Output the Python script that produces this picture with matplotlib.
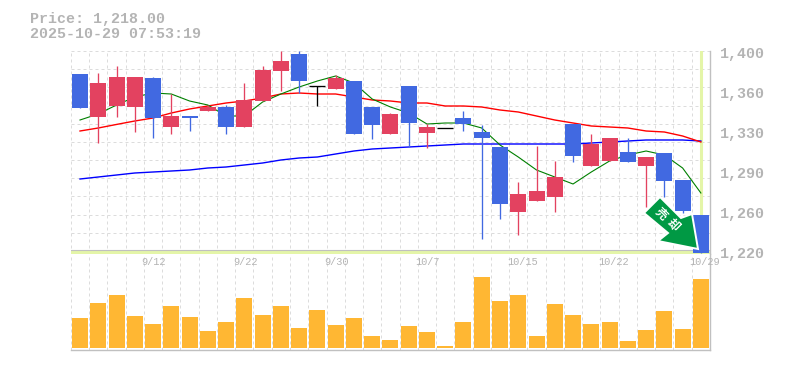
import numpy as np
import matplotlib
matplotlib.use("Agg")
import matplotlib.pyplot as plt
from matplotlib.patches import Polygon

# daily prices
opens = [1380.2, 1341.5, 1351.4, 1350.5, 1376.6, 1332.5, 1342.4, 1346.9, 1350.5, 1332.5,
         1355.9, 1382.9, 1398.2, 1369.7, 1366.7, 1373.9, 1350.5, 1326.2, 1369.4, 1327.1,
         1331.6, 1340.6, 1328.0, 1314.5, 1256.0, 1265.9, 1269.5, 1335.2, 1297.4, 1301.9,
         1310.0, 1297.4, 1309.1, 1284.8, 1253.3]
closes = [1349.6, 1372.1, 1377.5, 1377.5, 1340.6, 1342.4, 1340.6, 1350.5, 1332.5, 1356.8,
          1383.8, 1391.9, 1373.9, 1369.7, 1376.6, 1326.2, 1334.3, 1344.2, 1336.1, 1332.5,
          1331.6, 1335.2, 1322.6, 1263.2, 1272.2, 1274.9, 1287.5, 1306.4, 1317.2, 1322.6,
          1301.0, 1305.5, 1283.9, 1256.9, 1219.0]
highs = [1380.2, 1381.1, 1387.4, 1377.5, 1377.5, 1362.2, 1342.4, 1352.3, 1352.3, 1372.1,
         1387.4, 1400.9, 1400.9, 1369.7, 1379.3, 1373.9, 1350.5, 1345.1, 1369.4, 1335.2,
         1331.6, 1346.9, 1334.3, 1314.5, 1283.0, 1315.4, 1301.9, 1335.2, 1326.2, 1322.6,
         1322.6, 1305.5, 1309.1, 1284.8, 1253.3]
lows = [1349.6, 1318.1, 1341.5, 1328.0, 1322.6, 1326.2, 1328.9, 1346.9, 1326.2, 1332.5,
        1355.9, 1364.9, 1363.1, 1351.4, 1366.7, 1326.2, 1321.7, 1326.2, 1314.5, 1313.6,
        1331.6, 1328.9, 1231.7, 1249.7, 1235.3, 1265.9, 1256.0, 1301.0, 1297.4, 1301.9,
        1301.0, 1260.5, 1269.5, 1255.0, 1219.0]

ma_short = [1338.8, 1344.2, 1352.3, 1359.5, 1363.1, 1362.2, 1355.9, 1352.3, 1342.4, 1342.4,
            1355.0, 1362.2, 1368.5, 1373.9, 1378.4, 1372.1, 1357.7, 1350.5, 1345.1, 1335.2,
            1336.1, 1336.1, 1331.6, 1316.3, 1305.5, 1293.8, 1287.5, 1281.2, 1292.0, 1301.9,
            1307.3, 1310.9, 1307.3, 1295.6, 1273.1]
ma_mid = [1328.9, 1331.6, 1334.8, 1337.9, 1340.6, 1345.1, 1348.7, 1351.4, 1354.1, 1355.9,
          1358.6, 1362.2, 1363.1, 1362.2, 1362.2, 1359.5, 1356.8, 1355.9, 1354.1, 1354.1,
          1351.4, 1351.4, 1350.5, 1347.8, 1346.0, 1342.4, 1338.8, 1336.1, 1333.4, 1332.5,
          1331.6, 1328.9, 1328.0, 1324.4, 1319.0]
ma_long = [1285.7, 1287.5, 1289.3, 1291.1, 1292.0, 1292.9, 1293.8, 1295.6, 1296.5, 1298.3,
           1300.1, 1302.8, 1304.6, 1305.5, 1308.2, 1310.9, 1312.7, 1313.6, 1314.5, 1315.4,
           1316.3, 1317.2, 1317.2, 1317.2, 1317.2, 1317.2, 1317.2, 1317.2, 1318.1, 1319.0,
           1319.9, 1320.8, 1320.8, 1320.8, 1319.9]

volumes = [30, 45, 53, 32, 24, 42, 31, 17, 26, 50, 33, 42, 20, 38, 23, 30, 12, 8,
           22, 16, 2, 26, 71, 47, 53, 12, 44, 33, 24, 26, 7, 18, 37, 19, 69]

date_idx = [4, 9, 14, 19, 24, 29, 34]
date_labels = ["9/12", "9/22", "9/30", "10/7", "10/15", "10/22", "10/29"]
price_ticks = [1400, 1364, 1328, 1292, 1256, 1220]
price_labels = ["1,400", "1,360", "1,330", "1,290", "1,260", "1,220"]

W, H = 785, 370
RED = "#e34260"
BLUE = "#4169e1"
ORANGE = "#ffb733"
GRID = "#dcdcdc"
FRAME = "#c0c0c0"
BAND = "#e4f5a8"
TEXT = "#b4b4b4"
MONO = "Liberation Mono"
WIDTH = 0.876


def px_axes(left, top, right, bottom):
    return fig.add_axes([left / W, 1 - bottom / H, (right - left) / W, (bottom - top) / H])


def setup(ax):
    ax.set_xlim(-0.5, 34.5)
    ax.set_xticks(np.arange(35) - 0.5)
    ax.tick_params(axis="x", length=0, labelbottom=False)
    ax.grid(axis="x", color=GRID, lw=0.72, ls=(0, (3, 3)))
    ax.set_axisbelow(True)
    for s in ["left", "top", "bottom"]:
        ax.spines[s].set_visible(False)
    ax.spines["right"].set_color(FRAME)
    ax.spines["right"].set_linewidth(1.0)


fig = plt.figure(figsize=(W / 100, H / 100), dpi=100)
fig.patch.set_facecolor("white")

ax = px_axes(70.87, 51, 710, 254)
setup(ax)
ax.set_ylim(1218.2, 1400.9)
x = np.arange(35)

# horizontal grid is on the minor ticks, labels on the major ones
ax.set_yticks(np.linspace(1220.9, 1400.9, 12), minor=True)
ax.grid(axis="y", which="minor", color=GRID, lw=0.72, ls=(0, (3, 3)))
ax.yaxis.tick_right()
ax.set_yticks(price_ticks)
ax.set_yticklabels(price_labels, family=MONO, fontsize=10.8, color=TEXT, fontweight="bold")
ax.tick_params(axis="y", which="both", length=0, pad=7)

ax.axvline(34, color=BAND, lw=2.2, zorder=1)
ax.axhline(1219.7, color=BAND, lw=2.2, zorder=1)
ax.axhline(1221.8, color=FRAME, lw=0.8, zorder=1)

ax.plot(x, ma_long, color="#0000ff", lw=1.0, zorder=2)
ax.plot(x, ma_mid, color="#ff0000", lw=1.0, zorder=2)
ax.plot(x, ma_short, color="#008000", lw=0.8, zorder=2)

for i in x:
    o, c = opens[i], closes[i]
    col = RED if c > o else BLUE if c < o else "black"
    ax.vlines(i, lows[i], highs[i], color=col, lw=0.95, zorder=3)
    if c == o:
        ax.hlines(c, i - WIDTH / 2, i + WIDTH / 2, color=col, lw=0.95, zorder=3)
    else:
        ax.bar(i, abs(c - o), bottom=min(o, c), width=WIDTH, color=col, zorder=4)

vol = px_axes(70.87, 254, 710, 350)
setup(vol)
vol.set_ylim(-2, 94)
vol.set_yticks([])
vol.spines["bottom"].set_visible(True)
vol.spines["bottom"].set_color(FRAME)
vol.spines["bottom"].set_linewidth(1.0)
vol.bar(x, volumes, width=WIDTH, color=ORANGE, zorder=3)
for i, lab in zip(date_idx, date_labels):
    vol.text(i - 0.62, 86, lab, family=MONO, fontsize=7.4, color=TEXT, ha="left", va="center", zorder=5)

fig.text(30 / W, 1 - 23 / H, "Price: 1,218.00", family=MONO, fontsize=10.8, color=TEXT, fontweight="bold")
fig.text(30 / W, 1 - 38 / H, "2025-10-29 07:53:19", family=MONO, fontsize=10.8, color=TEXT, fontweight="bold")

# green signal badge, drawn in image pixels on a clear overlay
over = fig.add_axes([0, 0, 1, 1], facecolor="none")
over.set_xlim(0, W)
over.set_ylim(H, 0)
over.axis("off")
badge = [(660, 197), (644, 213), (668, 233), (658, 241), (698, 249), (692, 214), (681, 218)]
over.add_patch(Polygon(badge, closed=True, facecolor="#009944", edgecolor="white", lw=1.4, joinstyle="miter"))
for (bx, by), ch in zip([(661, 214), (673, 225)], "売却"):
    over.text(bx, by, ch, family="Noto Sans CJK JP", fontsize=8.5, fontweight="bold", color="white",
              rotation=-45, ha="center", va="center")

fig.savefig("out.png", dpi=100)
